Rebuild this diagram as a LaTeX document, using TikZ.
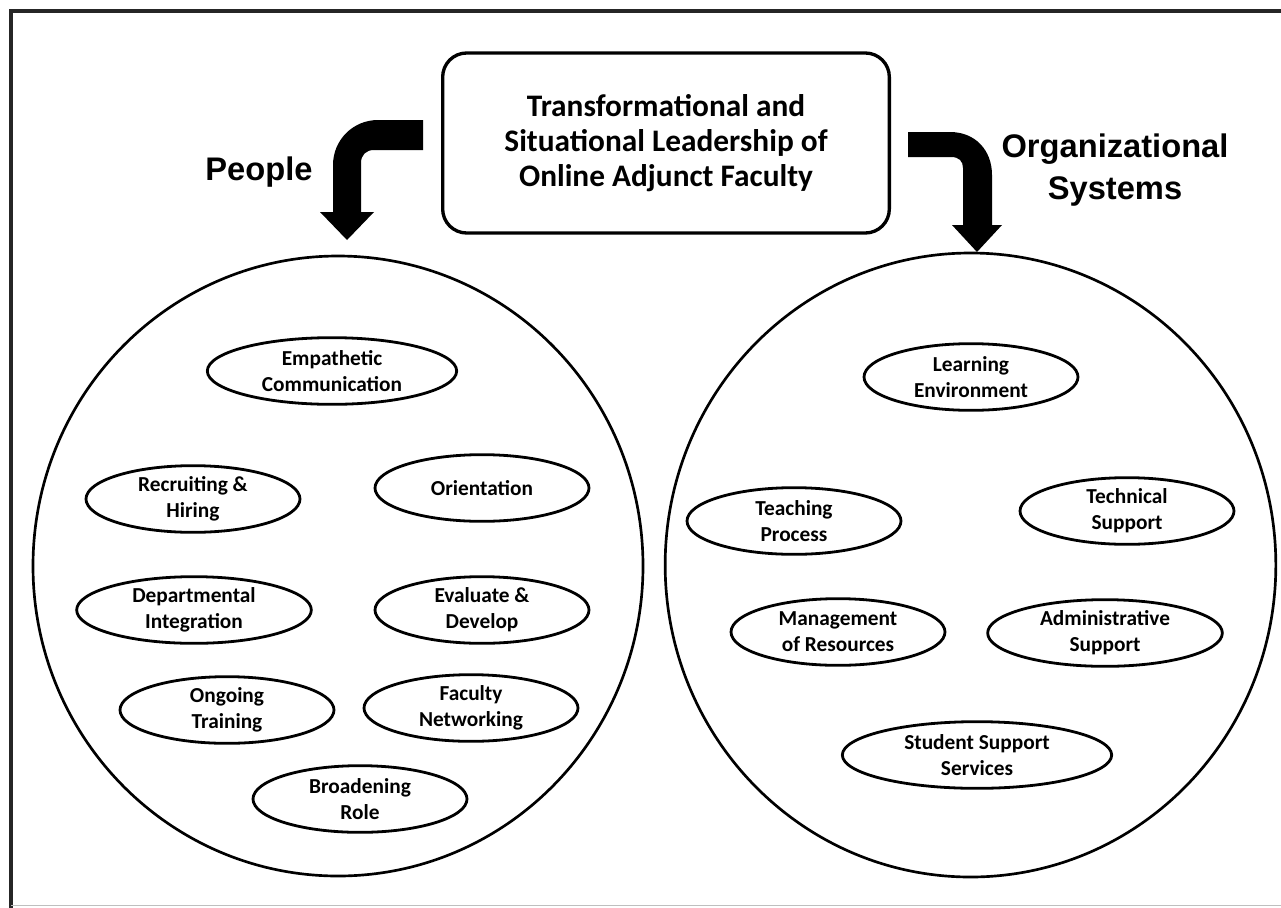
\documentclass[tikz,border=0pt]{standalone}
\usepackage{fontspec}
\usetikzlibrary{shapes.geometric}
\newfontfamily\carl{Carlito}
\newfontfamily\lib{Liberation Sans}
\begin{document}
\begin{tikzpicture}[x=0.75pt,y=-0.75pt,
  big/.style={draw, ellipse, line width=2pt, inner sep=0pt},
  ell/.style={draw, ellipse, line width=2.1pt, inner sep=0pt, minimum width=160.5pt, minimum height=50pt,
     align=center, font=\carl\bfseries\fontsize{16}{19.5}\selectfont},
  lbl/.style={align=center, font=\lib\bfseries\fontsize{24.5}{32}\selectfont}]
\useasboundingbox (0,0) rectangle (1281,907);
% frame
\draw[line width=2.6pt, black!85] (11,920) -- (11,11) -- (1295,11);
\draw[line width=1pt, black!25] (11,905.5) -- (1281,905.5);
% title
\node[draw, rounded corners=18pt, line width=2.5pt, minimum width=335pt, minimum height=135pt, align=center,
  font=\carl\bfseries\fontsize{23.5}{26.5}\selectfont] (title) at (666,143)
  {Transformational and\\Situational Leadership of\\Online Adjunct Faculty};
% side labels
\node[lbl] (people) at (259,172) {People};
\node[lbl] (org) at (1115,170) {Organizational\\Systems};
% big circles
\node[big, minimum width=457.5pt, minimum height=465pt] (lc) at (338,566) {};
\node[big, minimum width=458pt, minimum height=468pt] (rc) at (970.5,565) {};
% arrows
\fill (423,120) -- (378,120) .. controls (353,120) and (333,140) .. (333,165) -- (333,212) -- (320,212)
  -- (347,240) -- (374,212) -- (361,212) -- (361,163) .. controls (361,155) and (366,150) .. (374,150)
  -- (423,150) -- cycle;
\fill (908,132) -- (950,132) .. controls (975,132) and (992,150) .. (992,175) -- (992,225) -- (1002,225)
  -- (977,252) -- (952,225) -- (963,225) -- (963,168) .. controls (963,161) and (959,157) .. (951,157)
  -- (908,157) -- cycle;
% left items
\node[ell, minimum width=187pt] (emp) at (332,371) {Empathetic\\Communication};
\node[ell] (rec) at (193,499) {Recruiting \&\\Hiring};
\node[ell] (ori) at (482,488) {Orientation};
\node[ell, minimum width=176pt] (dep) at (194,610) {Departmental\\Integration};
\node[ell] (eva) at (482,610) {Evaluate \&\\Develop};
\node[ell] (ong) at (227,710) {Ongoing\\Training};
\node[ell] (fac) at (471,708) {Faculty\\Networking};
\node[ell] (bro) at (360,799) {Broadening\\Role};
% right items
\node[ell] (lea) at (971,377) {Learning\\Environment};
\node[ell] (tea) at (794,521) {Teaching\\Process};
\node[ell] (tec) at (1127,511) {Technical\\Support};
\node[ell] (man) at (838,632) {Management\\of Resources};
\node[ell, minimum width=176pt] (adm) at (1105,633) {Administrative\\Support};
\node[ell, minimum width=202pt] (stu) at (977,755) {Student Support\\Services};
\end{tikzpicture}
\end{document}
